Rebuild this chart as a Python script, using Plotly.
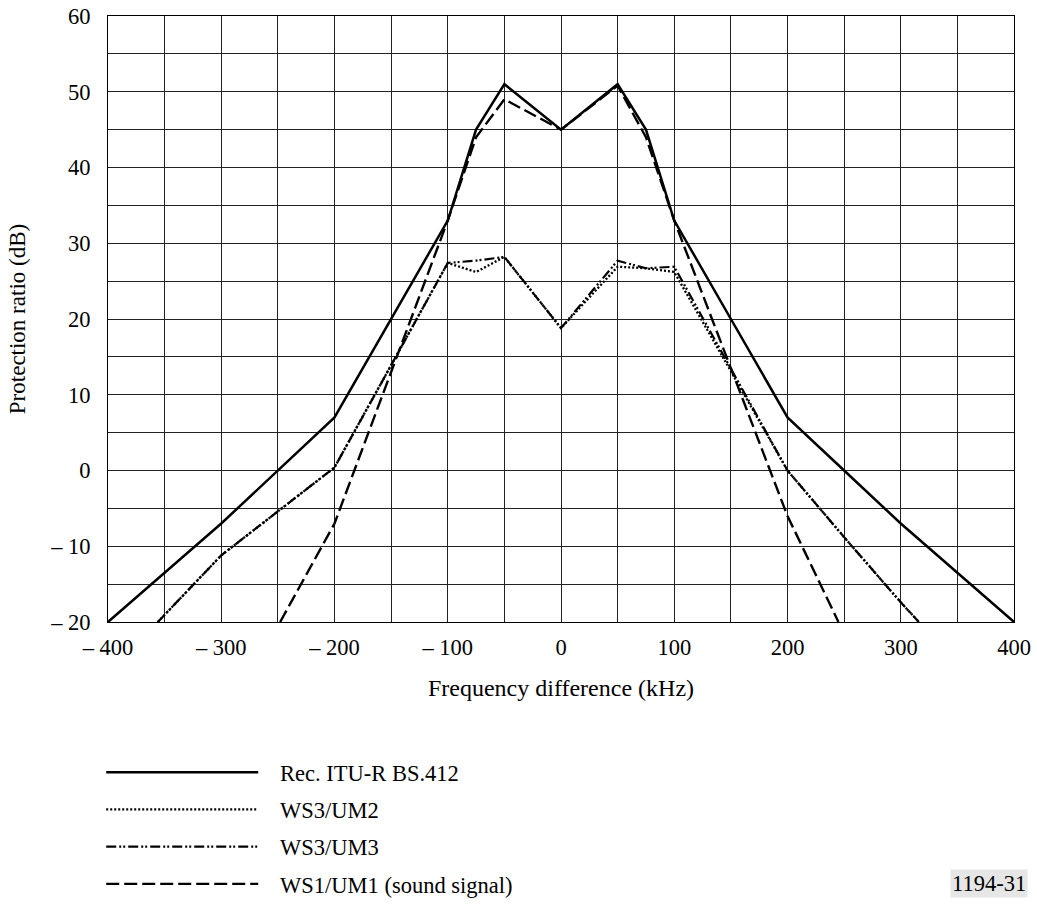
import plotly.graph_objects as go

# ---- data ----
freq_bs412 = [-400, -300, -200, -150, -100, -75, -50, 0, 50, 75, 100, 150, 200, 250, 300, 400]
bs412 = [-20, -7, 7, 20, 33, 45, 51, 45, 51, 45, 33, 20, 7, 0, -7, -20]

freq_ws3 = [-356, -300, -200, -100, -75, -50, 0, 50, 75, 100, 200, 250, 300, 316]
ws3_um2 = [-20, -11.2, 0.4, 27.4, 26.2, 28.2, 18.8, 26.9, 26.7, 26.2, 0, -8.8, -17.4, -20]
ws3_um3 = [-20, -11.2, 0.4, 27.4, 27.7, 28.2, 18.8, 27.7, 26.7, 26.9, 0, -8.8, -17.4, -20]

freq_ws1 = [-248, -200, -100, -75, -50, 0, 50, 75, 100, 200, 245]
ws1_um1 = [-20, -7, 33, 44, 49, 45, 50.8, 44, 33, -6, -20]

series_names = ["Rec. ITU-R BS.412", "WS3/UM2", "WS3/UM3", "WS1/UM1 (sound signal)"]

x_ticks = list(range(-400, 401, 50))
x_labels = [("\u2013 %d" % -v if v < 0 else str(v)) if v % 100 == 0 else "" for v in x_ticks]
y_ticks = list(range(-20, 61, 5))
y_labels = [("\u2013 %d" % -v if v < 0 else str(v)) if v % 10 == 0 else "" for v in y_ticks]

FONT = "Liberation Serif, Times New Roman, serif"
FS = 22.5
PAD = "\u00a0\u00a0\u00a0"

fig = go.Figure()
fig.add_trace(go.Scatter(x=freq_bs412, y=bs412, mode="lines", name=PAD + series_names[0],
                         line=dict(color="black", width=2.5), legendgroup="a"))
fig.add_trace(go.Scatter(x=freq_ws3, y=ws3_um2, mode="lines", name=PAD + series_names[1],
                         line=dict(color="black", width=2.3, dash="2px,2px"), legendgroup="b"))
fig.add_trace(go.Scatter(x=freq_ws3, y=ws3_um3, mode="lines", name=PAD + series_names[2],
                         line=dict(color="black", width=2.2, dash="10px,3px,2px,2px,2px,3px"), legendgroup="c"))
fig.add_trace(go.Scatter(x=freq_ws1, y=ws1_um1, mode="lines", name=PAD + series_names[3],
                         line=dict(color="black", width=2.4, dash="13px,5px"), legendgroup="d"))

axis_common = dict(showline=True, mirror=True, linecolor="black", linewidth=1,
                   showgrid=True, gridcolor="#222222", gridwidth=1, zeroline=False,
                   ticks="", tickfont=dict(family=FONT, size=FS, color="black"),
                   tickmode="array", automargin=False, ticklabeloverflow="allow")

fig.update_xaxes(range=[-400, 400], tickvals=x_ticks, ticktext=x_labels, ticklabelstandoff=5,
                 title=dict(text="Frequency difference (kHz)", font=dict(family=FONT, size=24, color="black"), standoff=20),
                 **axis_common)
fig.update_yaxes(range=[-20, 60], tickvals=y_ticks, ticktext=y_labels, ticklabelstandoff=12,
                 title=dict(text="Protection ratio (dB)", font=dict(family=FONT, size=23, color="black"), standoff=18),
                 **axis_common)

fig.add_annotation(text="1194-31", xref="paper", yref="paper", x=1.0155, y=-0.4307,
                   xanchor="right", yanchor="middle", showarrow=False,
                   bgcolor="#e6e6e6", font=dict(family=FONT, size=FS, color="black"), borderpad=1)

fig.update_layout(
    width=1037, height=905,
    margin=dict(l=108, r=23, t=16, b=283, autoexpand=False),
    paper_bgcolor="white", plot_bgcolor="white",
    font=dict(family=FONT, size=FS, color="black"),
    showlegend=True,
    legend=dict(x=-0.0075, y=-0.2129, xanchor="left", yanchor="top",
                itemwidth=152, tracegroupgap=5, traceorder="grouped",
                font=dict(family=FONT, size=FS, color="black"),
                bgcolor="rgba(0,0,0,0)"),
)

fig.write_html("out.html", config={"displayModeBar": False},
               post_script="document.body.style.margin = '0';")
